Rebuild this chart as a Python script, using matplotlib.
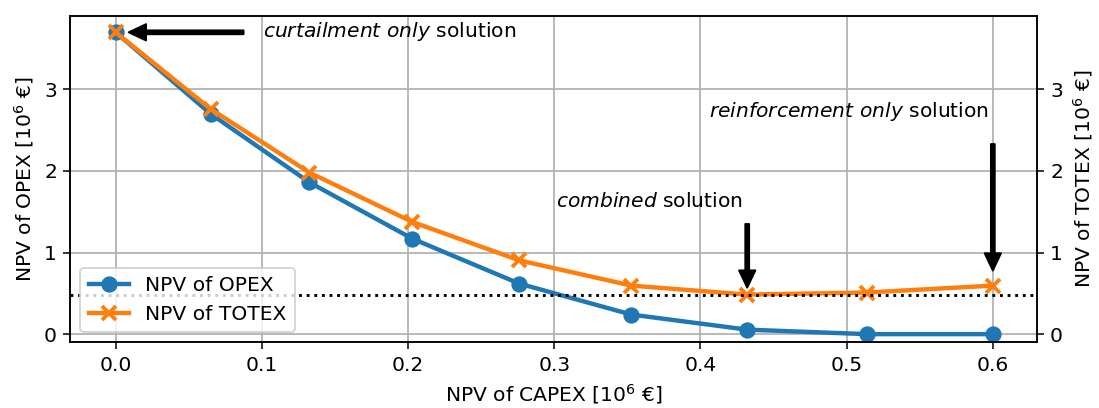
import matplotlib
matplotlib.use("Agg")
import matplotlib.pyplot as plt

capex = [0.0, 0.065, 0.1326, 0.203, 0.276, 0.3527, 0.432, 0.514, 0.6]
opex = [3.70, 2.70, 1.86, 1.17, 0.62, 0.24, 0.055, 0.0, 0.0]
totex = [3.70, 2.76, 1.98, 1.375, 0.905, 0.595, 0.485, 0.51, 0.595]
ref_level = 0.485

plt.rcParams['font.size'] = 10.6

DPI = 138
fig = plt.figure(figsize=(1099 / DPI, 408 / DPI), dpi=DPI)
ax = fig.add_axes([70.3 / 1099, 1 - 342.3 / 408, (1036.7 - 70.3) / 1099, (342.3 - 16) / 408])

ax.plot(capex, opex, marker='o', lw=2.3, ms=7.5, color='#1f77b4', label='NPV of OPEX')
ax.plot(capex, totex, marker='x', lw=2.3, ms=7.5, mew=2, color='#ff7f0e', label='NPV of TOTEX')
ax.axhline(ref_level, color='black', ls=':', lw=1.5)

ax.set_xlim(-0.031, 0.63)
ax.set_ylim(-0.1, 3.9)
ax.set_yticks([0, 1, 2, 3])
ax.grid(True, color='#b0b0b0', lw=0.9)
ax.set_xlabel(r'NPV of CAPEX [$10^6$ €]')
ax.set_ylabel(r'NPV of OPEX [$10^6$ €]')

ax2 = ax.twinx()
ax2.set_ylim(ax.get_ylim())
ax2.set_yticks([0, 1, 2, 3])
ax2.set_ylabel(r'NPV of TOTEX [$10^6$ €]')

ap = dict(facecolor='black', edgecolor='black', width=2, headwidth=8.5, headlength=9, shrink=0.0)
ax.annotate('', xy=(0.009, 3.70), xytext=(0.0875, 3.70), arrowprops=ap)
ax.text(0.1005, 3.71, r'$\it{curtailment\ only}$ solution', va='center', ha='left')

ax.annotate('', xy=(0.6, 0.78), xytext=(0.6, 2.33), arrowprops=ap)
ax.text(0.406, 2.73, r'$\it{reinforcement\ only}$ solution', va='center', ha='left')

ax.annotate('', xy=(0.432, 0.57), xytext=(0.432, 1.35), arrowprops=ap)
ax.text(0.3015, 1.62, r'$\it{combined}$ solution', va='center', ha='left')

ax.legend(loc='lower left')

fig.savefig('out.png', dpi=DPI)
